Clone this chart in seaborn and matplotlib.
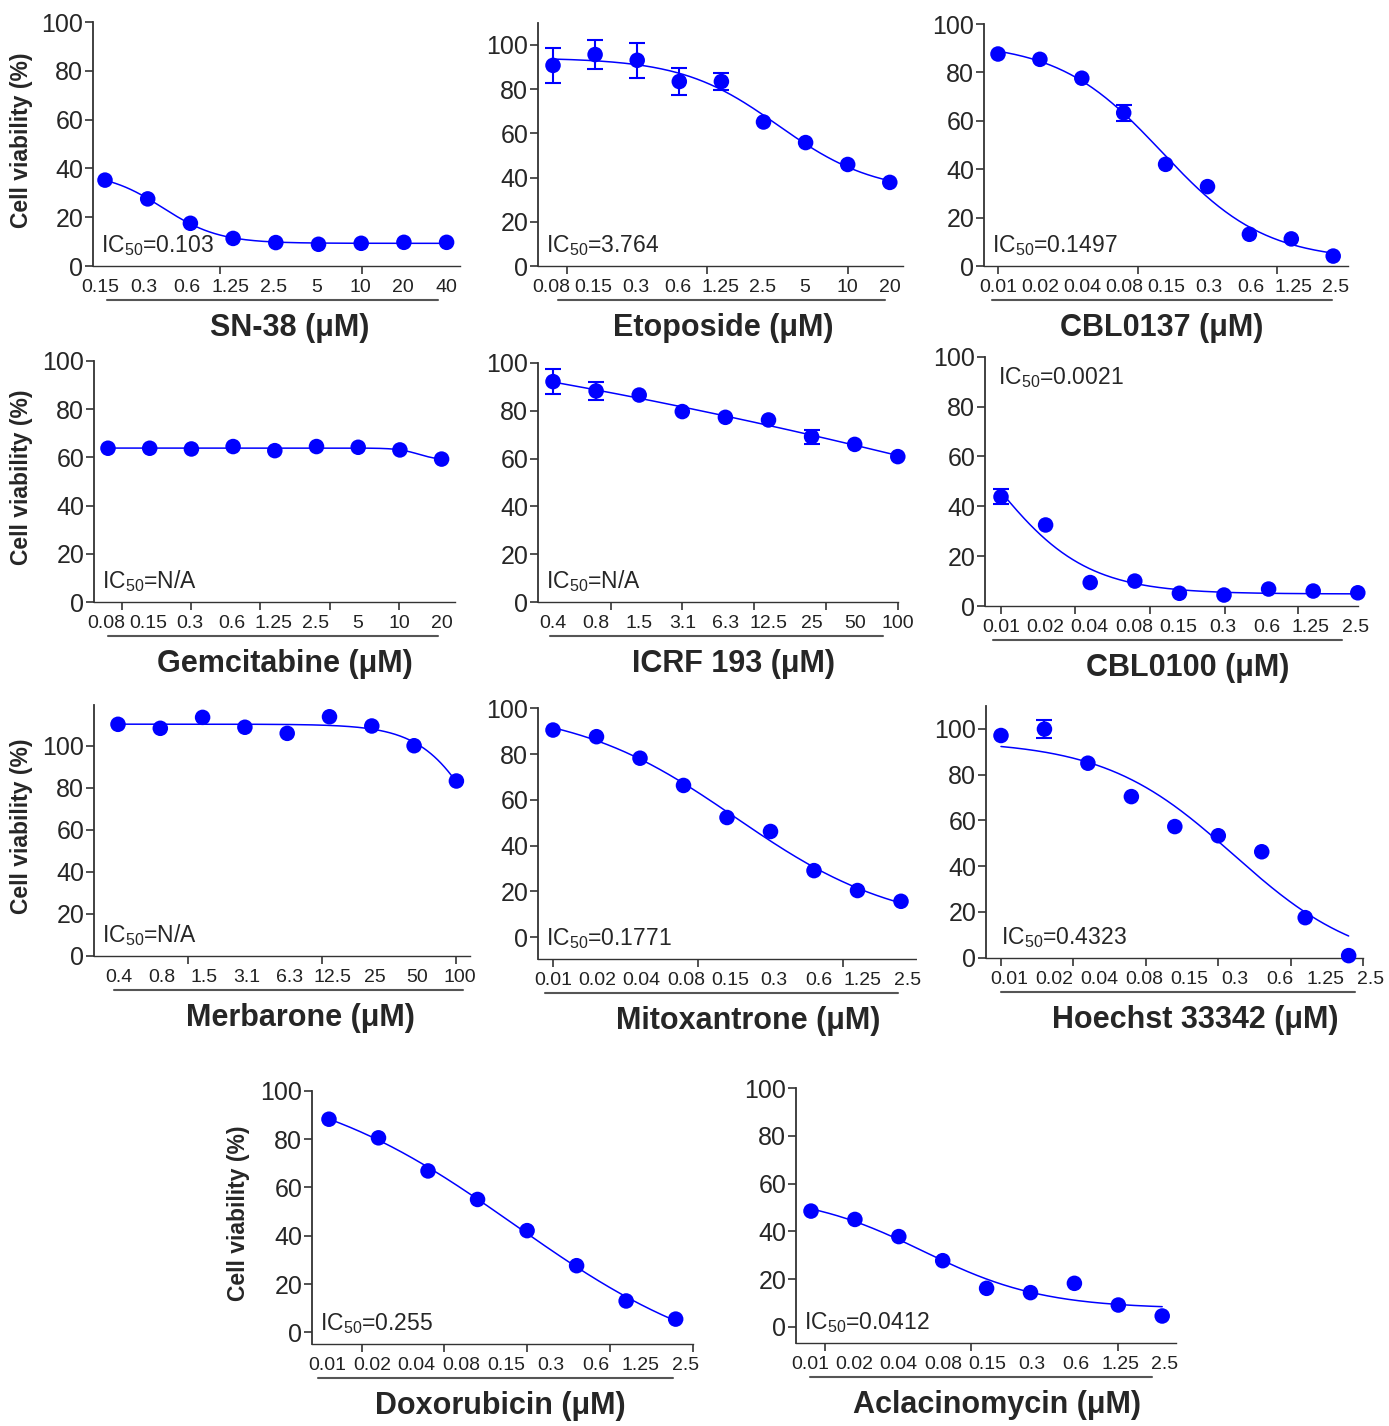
import numpy as np
import seaborn as sns
import matplotlib.pyplot as plt
from matplotlib import transforms

sns.set_style('ticks')
plt.rcParams['font.family'] = ['Liberation Sans', 'DejaVu Sans']
plt.rcParams['mathtext.default'] = 'regular'

W, H = 1389, 1426
BLUE = '#0000FF'

# ---- data -------------------------------------------------------------
drugs = ['SN-38', 'Etoposide', 'CBL0137', 'Gemcitabine', 'ICRF 193', 'CBL0100',
         'Merbarone', 'Mitoxantrone', 'Hoechst 33342', 'Doxorubicin', 'Aclacinomycin']

conc_sn38 = ['0.15', '0.3', '0.6', '1.25', '2.5', '5', '10', '20', '40']
conc_etop = ['0.08', '0.15', '0.3', '0.6', '1.25', '2.5', '5', '10', '20']
conc_cbl = ['0.01', '0.02', '0.04', '0.08', '0.15', '0.3', '0.6', '1.25', '2.5']
conc_icrf = ['0.4', '0.8', '1.5', '3.1', '6.3', '12.5', '25', '50', '100']

conc_labels = [conc_sn38, conc_etop, conc_cbl, conc_etop, conc_icrf, conc_cbl,
               conc_icrf, conc_cbl, conc_cbl, conc_cbl, conc_cbl]

viab_sn38 = [35.2, 27.5, 17.5, 11.3, 9.6, 8.9, 9.3, 9.7, 9.7]
viab_etop = [90.7, 95.6, 93.0, 83.4, 83.4, 65.1, 55.8, 45.9, 37.8]
viab_cbl0137 = [87.6, 85.4, 77.6, 63.3, 42.0, 32.8, 13.1, 11.2, 4.1]
viab_gem = [63.8, 63.8, 63.5, 64.5, 62.8, 64.5, 64.2, 63.1, 59.3]
viab_icrf = [92.1, 88.2, 86.5, 79.6, 77.2, 76.1, 69.1, 65.9, 60.8]
viab_cbl0100 = [43.8, 32.5, 9.4, 10.0, 5.1, 4.4, 6.8, 6.0, 5.3]
viab_merb = [110.2, 108.3, 113.5, 108.8, 105.9, 113.8, 109.4, 100.0, 83.2]
viab_mitox = [90.5, 87.6, 78.2, 66.3, 52.3, 46.2, 29.1, 20.4, 15.7]
viab_hoechst = [97.1, 99.9, 85.0, 70.4, 57.3, 53.3, 46.3, 17.5, 0.9]
viab_doxo = [88.2, 80.5, 66.8, 55.0, 42.1, 27.6, 13.0, 5.5]
viab_acla = [48.5, 45.0, 37.8, 27.7, 16.1, 14.3, 18.2, 9.1, 4.5]

sem_etop = [8.0, 6.5, 8.0, 5.9, 3.9, 0, 0, 0, 0]
sem_cbl0137 = [0, 0, 0, 3.2, 0, 0, 0, 0, 0]
sem_icrf = [5.1, 3.8, 0, 0, 0, 0, 2.9, 0, 0]
sem_cbl0100 = [3.0, 0, 0, 0, 0, 0, 0, 0, 0]
sem_hoechst = [0, 3.8, 0, 0, 0, 0, 0, 0, 0]

viability = [viab_sn38, viab_etop, viab_cbl0137, viab_gem, viab_icrf, viab_cbl0100,
             viab_merb, viab_mitox, viab_hoechst, viab_doxo, viab_acla]
sems = [None, sem_etop, sem_cbl0137, None, sem_icrf, sem_cbl0100,
        None, None, sem_hoechst, None, None]
ic50 = ['0.103', '3.764', '0.1497', 'N/A', 'N/A', '0.0021',
        'N/A', '0.1771', '0.4323', '0.255', '0.0412']

# plateaus held fixed in the curve fit
fit_top = {5: 100.0, 8: 95.0}
fit_bottom = {6: 0.0, 8: -5.0}

# ---- layout (pixels): L, R, T, B, x of first point, point spacing, ylim ----
boxes = [
    (93, 460, 22, 266, 105, 42.7, 0, 100),
    (538, 903, 22.7, 266, 553, 42.1, 0, 110),
    (984, 1348, 24, 266, 998, 41.9, 0, 100),
    (94, 455, 361, 602, 108, 41.7, 0, 100),
    (538, 898, 362.7, 602.3, 553, 43.1, 0, 100),
    (985, 1358, 356.7, 606, 1001, 44.6, 0, 100),
    (94, 470, 705, 955.7, 118, 42.3, 0, 119.4),
    (538, 917, 708.3, 959, 553, 43.5, -9.5, 100),
    (986, 1363, 706, 957.7, 1001, 43.5, 0, 110),
    (312, 693, 1090.7, 1344, 329, 49.6, -4.8, 100),
    (796, 1176, 1088.3, 1342.7, 811, 43.9, -6.7, 100),
]
xtick_marks = [[2.69, 6.02], [0.33, 3.66, 7.0], [0, 3.33, 6.67],
               [0.34, 1.99, 3.65, 5.32, 6.98], [1.35, 3.0, 4.66, 6.33, 8.0],
               [0, 1.66, 3.34, 5.02, 6.66], [1.65, 4.82, 8.0], [0, 3.33, 6.67],
               [0, 1.66, 3.33, 5.0, 6.68, 8.33], [0.67, 2.33, 3.99, 5.67, 7.35],
               [0.32, 3.64, 7.0]]
label_span = [(-0.1, 8.0), (-0.05, 8.0), (0, 8.05), (-0.05, 8.0), (0, 8.0), (0, 7.94),
              (0.02, 8.09), (0, 8.14), (0.18, 8.5), (-0.04, 7.2), (-0.02, 8.06)]
underline_span = [(0.05, 7.8), (0.12, 7.89), (-0.14, 7.97), (0, 7.91), (-0.07, 7.66),
                  (-0.18, 7.65), (-0.09, 8.16), (-0.18, 7.93), (0, 8.14), (-0.22, 6.94),
                  (-0.02, 7.77)]
xlabel_cx = [290, 723, 1162, 285, 733, 1188, 300, 748, 1195, 500, 997]
ylabel_panels = {0: 22, 3: 22, 6: 22, 9: 238}


def fit_4pl(x, y, top=None, bottom=None):
    x = np.asarray(x, float)
    y = np.asarray(y, float)
    mids = np.arange(-6, 14.01, 0.05)
    slopes = np.arange(0.05, 4.0, 0.02)
    M, S = np.meshgrid(mids, slopes, indexing='ij')
    G = 1 / (1 + np.exp(S[..., None] * (x - M[..., None])))
    A = 1 - G
    if top is None and bottom is None:
        saa = (A * A).sum(-1); sag = (A * G).sum(-1); sgg = (G * G).sum(-1)
        say = (A * y).sum(-1); sgy = (G * y).sum(-1)
        det = saa * sgg - sag ** 2
        det = np.where(np.abs(det) < 1e-10, np.nan, det)
        b = (sgg * say - sag * sgy) / det
        t = (saa * sgy - sag * say) / det
    elif top is not None and bottom is None:
        t = np.full(M.shape, top)
        b = (A * (y - top * G)).sum(-1) / (A * A).sum(-1)
    elif bottom is not None and top is None:
        b = np.full(M.shape, bottom)
        t = (G * (y - bottom * A)).sum(-1) / (G * G).sum(-1)
    else:
        t = np.full(M.shape, top)
        b = np.full(M.shape, bottom)
    sse = ((b[..., None] * A + t[..., None] * G - y) ** 2).sum(-1)
    i = np.unravel_index(np.nanargmin(sse), sse.shape)
    return b[i], t[i], M[i], S[i]


fig = plt.figure(figsize=(W / 100, H / 100), dpi=100)

for k, drug in enumerate(drugs):
    L, R, T, B, x0, dx, ylo, yhi = boxes[k]
    ax = fig.add_axes([L / W, 1 - B / H, (R - L) / W, (B - T) / H])
    y = np.array(viability[k])
    x = np.arange(len(y))

    # fitted dose-response curve
    b, t, m, s = fit_4pl(x, y, fit_top.get(k), fit_bottom.get(k))
    xs = np.linspace(0, len(y) - 1, 200)
    ys = b + (t - b) / (1 + np.exp(s * (xs - m)))
    sns.lineplot(x=xs, y=ys, color=BLUE, lw=1.1, ax=ax)

    if sems[k] is not None:
        e = np.array(sems[k])
        mask = e > 0
        ax.errorbar(x[mask], y[mask], yerr=e[mask], fmt='none', ecolor=BLUE,
                    elinewidth=1.5, capsize=5.5, capthick=1.5, zorder=2, clip_on=False)
    sns.scatterplot(x=x, y=y, color=BLUE, s=125, edgecolor='none', zorder=3,
                    ax=ax, clip_on=False)

    ax.set_xlim((L - x0) / dx, (R - x0) / dx)
    ax.set_ylim(ylo, yhi)
    ax.set_yticks(range(0, 101, 20))
    ax.set_xticks(xtick_marks[k])
    ax.set_xticklabels([])
    ax.set_xlabel('')
    ax.set_ylabel('')
    for side in ['top', 'right']:
        ax.spines[side].set_visible(False)
    ax.spines['left'].set_color('#333333')
    ax.spines['left'].set_linewidth(1.3)
    ax.spines['bottom'].set_color('#333333')
    ax.spines['bottom'].set_linewidth(1.0)
    ax.spines['bottom'].set_linestyle((0, (2, 1)))
    ax.tick_params(axis='y', direction='out', length=6, width=1.2, color='#333333',
                   labelsize=18, pad=1)
    ax.tick_params(axis='x', direction='out', length=6, width=1.2, color='#333333')

    # concentration labels under the axis
    lab = conc_labels[k]
    lpos = np.linspace(label_span[k][0], label_span[k][1], len(lab))
    for p, txt in zip(lpos, lab):
        ax.annotate(txt, xy=(p, 0), xycoords=('data', 'axes fraction'),
                    xytext=(0, -15.5), textcoords='offset points',
                    ha='center', va='center', fontsize=14, color='#222222')
    trans = transforms.blended_transform_factory(ax.transData, ax.transAxes)
    uy = -34 / (B - T)
    ax.plot(underline_span[k], [uy, uy], transform=trans, color='#555555',
            lw=1.5, clip_on=False)

    # IC50
    ictxt = 'IC$_{50}$=' + ic50[k]
    if k == 5:
        ax.annotate(ictxt, xy=(0, 1), xycoords='axes fraction', xytext=(9, -20),
                    textcoords='offset points', fontsize=16.5, va='baseline')
    else:
        xo = 11 if k == 8 else 6
        ax.annotate(ictxt, xy=(0, 0), xycoords='axes fraction', xytext=(xo, 10),
                    textcoords='offset points', fontsize=16.5, va='baseline')

    fig.text(xlabel_cx[k] / W, 1 - (B + 62) / H, drug + ' (μM)', ha='center',
             va='center', fontsize=22, fontweight='bold')
    if k in ylabel_panels:
        fig.text(ylabel_panels[k] / W, 1 - ((T + B) / 2 - 4) / H, 'Cell viability (%)',
                 rotation=90, ha='center', va='center', fontsize=16.5,
                 fontweight='bold')

fig.savefig('out.png', dpi=100)
